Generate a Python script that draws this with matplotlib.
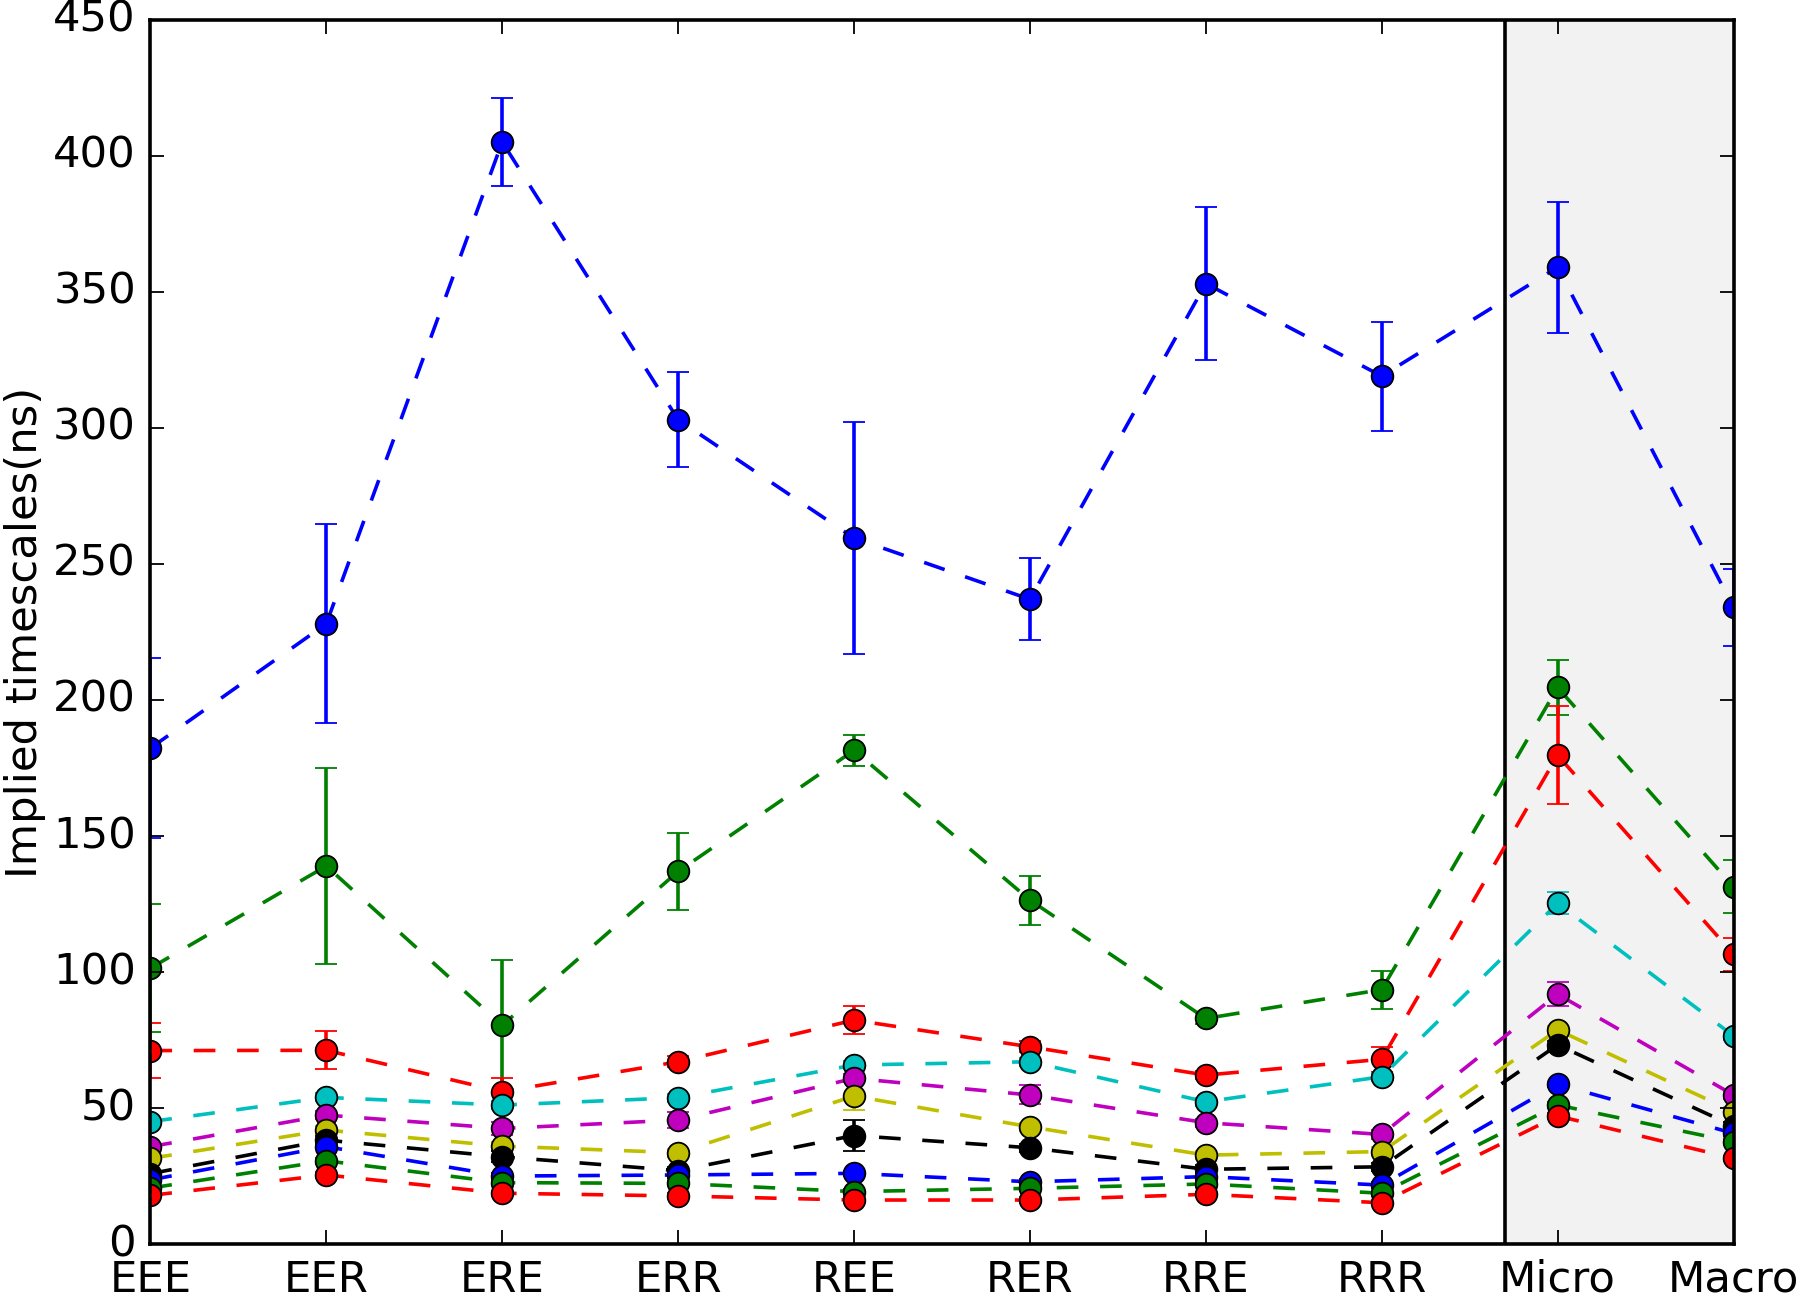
import matplotlib
matplotlib.use("Agg")
import matplotlib.pyplot as plt

plt.style.use('classic')
plt.rcParams['font.family'] = ['DejaVu Sans']

categories = ["EEE", "EER", "ERE", "ERR", "REE", "RER", "RRE", "RRR", "Micro", "Macro"]

ts1 = [182.3, 228.0, 405.0, 303.0, 259.5, 237.0, 353.0, 319.0, 359.0, 234.0]
err1 = [33.0, 36.5, 16.0, 17.5, 42.5, 15.0, 28.0, 20.0, 24.0, 14.0]
ts2 = [101.5, 139.0, 80.5, 137.0, 181.5, 126.5, 83.0, 93.6, 204.6, 131.4]
err2 = [23.5, 36.0, 24.0, 14.0, 5.7, 9.0, 2.0, 7.0, 10.0, 9.7]
ts3 = [71.2, 71.3, 56.1, 67.1, 82.4, 72.6, 62.2, 68.0, 179.7, 106.6]
err3 = [10.0, 7.0, 5.0, 2.0, 5.0, 2.0, 1.5, 4.6, 18.0, 6.0]
ts4 = [45.1, 54.0, 51.2, 53.9, 65.9, 67.1, 52.4, 61.6, 125.3, 76.6]
err4 = [1.5, 1.5, 1.5, 1.5, 1.5, 1.5, 1.5, 1.5, 4.0, 1.5]
ts5 = [35.9, 47.5, 42.6, 45.7, 61.0, 54.9, 44.7, 40.4, 91.9, 54.9]
err5 = [1.5, 1.5, 2.5, 3.0, 1.5, 3.5, 1.5, 1.5, 4.5, 1.5]
ts6 = [31.6, 42.0, 36.1, 33.7, 54.5, 43.2, 32.8, 34.1, 78.8, 48.8]
err6 = [1.5, 1.5, 1.5, 1.5, 5.0, 1.5, 1.5, 1.5, 1.5, 1.5]
ts7 = [26.0, 38.3, 32.2, 27.1, 40.0, 35.5, 27.6, 28.5, 73.3, 43.5]
err7 = [1.5, 1.5, 2.0, 1.5, 5.7, 1.5, 1.5, 1.5, 1.5, 1.5]
ts8 = [23.7, 35.9, 25.1, 25.5, 26.1, 23.0, 24.9, 21.8, 58.8, 40.8]
err8 = [1.0, 1.0, 1.0, 1.0, 1.0, 1.0, 1.0, 1.0, 1.0, 1.0]
ts9 = [20.7, 30.7, 22.7, 22.4, 19.4, 20.6, 22.2, 18.8, 51.2, 37.7]
err9 = [1.0, 1.0, 1.0, 1.0, 1.0, 1.0, 1.0, 1.0, 1.0, 1.0]
ts10 = [18.0, 25.5, 18.8, 17.8, 16.3, 16.3, 18.4, 15.3, 47.2, 31.6]
err10 = [1.0, 1.0, 1.0, 1.0, 1.0, 1.0, 1.0, 1.0, 1.0, 1.0]

series = [(ts1, err1), (ts2, err2), (ts3, err3), (ts4, err4), (ts5, err5),
          (ts6, err6), (ts7, err7), (ts8, err8), (ts9, err9), (ts10, err10)]
colors = ['b', 'g', 'r', 'c', 'm', 'y', 'k', 'b', 'g', 'r']

DPI = 260
fig = plt.figure(figsize=(1800 / DPI, 1294 / DPI), dpi=DPI, facecolor='white')
ax = fig.add_axes([150.4 / 1800, 1 - 1244.4 / 1294, (1733.5 - 150.4) / 1800, (1244.4 - 19.5) / 1294])
ax.set_facecolor('white')

x = list(range(len(categories)))
ax.axvspan(7.7, 9, color='#f2f2f2', zorder=0, lw=0)
ax.axvline(7.7, color='k', lw=1.0, zorder=1)

for (vals, errs), c in zip(series, colors):
    ax.errorbar(x, vals, yerr=errs, fmt='o--', color=c, ecolor=c, mfc=c, mec='k',
                mew=0.5, ms=6, lw=1.0, capsize=3, elinewidth=1.0, capthick=1.0,
                dashes=(6, 6))

ax.set_xlim(0, 9)
ax.set_ylim(0, 450)
ax.set_xticks(x)
ax.set_xticklabels(categories)
ax.set_yticks(range(0, 451, 50))
ax.tick_params(labelsize=12)
ax.set_ylabel("Implied timescales(ns)", fontsize=12, labelpad=2)

fig.savefig("out.png", dpi=DPI, facecolor='white')
